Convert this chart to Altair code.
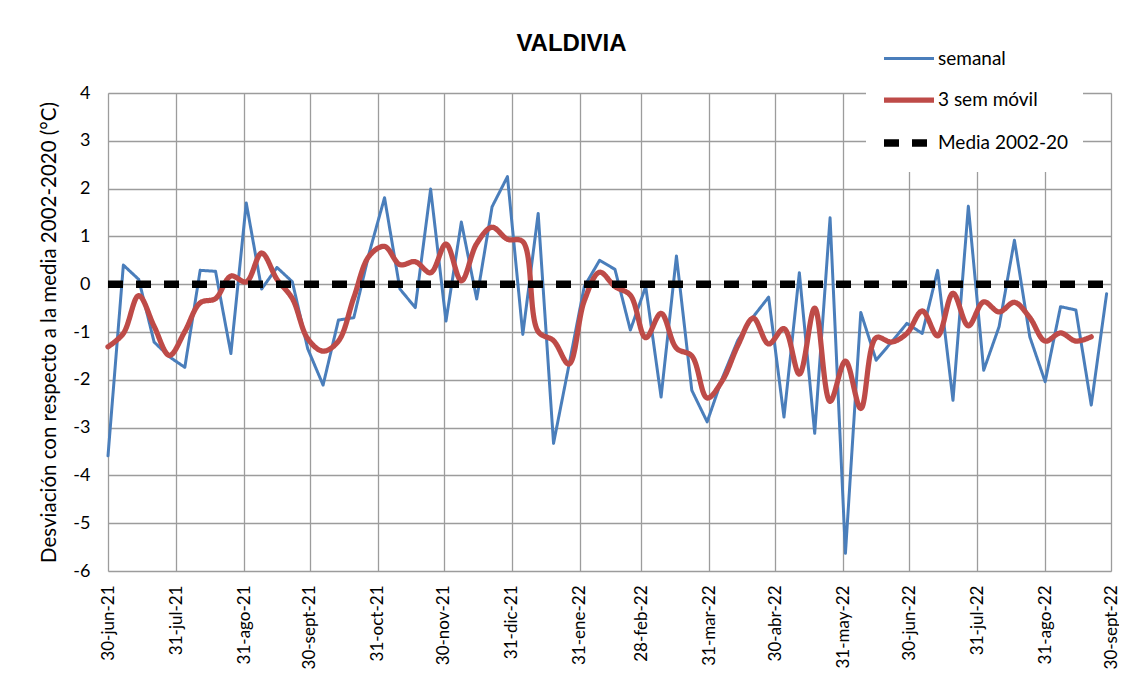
import altair as alt
import pandas as pd

# ---- data ----
fechas_semanal = pd.date_range("2021-06-30", periods=66, freq="7D")
semanal = [-3.59, 0.40, 0.10, -1.21, -1.52, -1.74, 0.29, 0.27, -1.45, 1.70,
           -0.10, 0.35, 0.05, -1.35, -2.11, -0.75, -0.70, 0.65, 1.81, -0.10,
           -0.49, 1.99, -0.77, 1.30, -0.31, 1.62, 2.25, -1.05, 1.48, -3.33,
           -1.70, -0.05, 0.50, 0.31, -0.96, -0.05, -2.36, 0.59, -2.22, -2.88,
           -1.95, -1.17, -0.68, -0.27, -2.78, 0.24, -3.12, 1.39, -5.63, -0.59,
           -1.59, -1.21, -0.82, -1.03, 0.29, -2.43, 1.63, -1.80, -0.89, 0.92,
           -1.10, -2.04, -0.47, -0.54, -2.53, -0.20]
fechas_movil = fechas_semanal[:65]
movil = [-1.31, -1.03, -0.24, -0.88, -1.49, -0.99, -0.39, -0.30, 0.17, 0.05,
         0.65, 0.10, -0.30, -1.14, -1.40, -1.19, -0.28, 0.59, 0.79, 0.41,
         0.47, 0.24, 0.84, 0.07, 0.85, 1.19, 0.94, 0.89, -0.99, -1.18,
         -1.67, -0.35, 0.25, -0.05, -0.23, -1.12, -0.61, -1.34, -1.50, -2.38,
         -2.01, -1.28, -0.71, -1.25, -0.93, -1.88, -0.50, -2.45, -1.61, -2.60,
         -1.12, -1.21, -1.03, -0.56, -1.08, -0.19, -0.87, -0.37, -0.58, -0.38,
         -0.70, -1.19, -1.02, -1.19, -1.10]
media_fechas = ["2021-06-30", "2022-09-30"]
media = [0, 0]

tick_fechas = ["2021-06-30", "2021-07-31", "2021-08-31", "2021-09-30", "2021-10-31",
               "2021-11-30", "2021-12-31", "2022-01-31", "2022-02-28", "2022-03-31",
               "2022-04-30", "2022-05-31", "2022-06-30", "2022-07-31", "2022-08-31",
               "2022-09-30"]
tick_etiquetas = ["30-jun-21", "31-jul-21", "31-ago-21", "30-sept-21", "31-oct-21",
                  "30-nov-21", "31-dic-21", "31-ene-22", "28-feb-22", "31-mar-22",
                  "30-abr-22", "31-may-22", "30-jun-22", "31-jul-22", "31-ago-22",
                  "30-sept-22"]
y_ticks = [-6, -5, -4, -3, -2, -1, 0, 1, 2, 3, 4]
series = ["semanal", "3 sem móvil", "Media 2002-20"]
colores = ["#4A7EBB", "#BE4B48", "#000000"]
anchos = [3, 7.5, 3.5]
trazos = [[1, 0], [1, 0], [15, 13]]

def iso(d):
    return pd.Timestamp(d).strftime("%Y-%m-%dT00:00:00")

df_sem = pd.DataFrame({"fecha": [iso(d) for d in fechas_semanal], "valor": semanal, "serie": series[0]})
df_mov = pd.DataFrame({"fecha": [iso(d) for d in fechas_movil], "valor": movil, "serie": series[1]})
df_med = pd.DataFrame({"fecha": [iso(d) for d in media_fechas], "valor": media, "serie": series[2]})

def dt(s):
    t = pd.Timestamp(s)
    return alt.DateTime(year=t.year, month=t.month, date=t.day)

keys = "[" + ",".join(f"'{d}'" for d in tick_fechas) + "]"
labs = "[" + ",".join(f"'{l}'" for l in tick_etiquetas) + "]"
label_expr = f"{labs}[indexof({keys}, timeFormat(datum.value, '%Y-%m-%d'))]"

GRID = "#9c9c9c"

x_enc = alt.X("fecha:T",
              scale=alt.Scale(domain=[dt(tick_fechas[0]), dt(tick_fechas[-1])]),
              axis=alt.Axis(values=[dt(d) for d in tick_fechas], labelExpr=label_expr,
                            labelAngle=-90, labelFont="Lato", labelFontSize=17,
                            labelColor="black", labelPadding=14, labelFlush=False,
                            labelOverlap=False, grid=True, gridColor=GRID, gridWidth=1.3,
                            domain=False, ticks=False),
              title=None)
y_enc = alt.Y("valor:Q",
              scale=alt.Scale(domain=[-6, 4], nice=False, zero=False),
              axis=alt.Axis(values=y_ticks, labelExpr="toString(datum.value)",
                            labelFont="Lato", labelFontSize=18,
                            labelColor="black", labelPadding=18, grid=True,
                            gridColor=GRID, gridWidth=1.3, domain=False, ticks=False,
                            titleFont="Lato", titleFontSize=20.5, titleFontWeight="normal",
                            titleColor="black", titlePadding=13),
              title="Desviación con respecto a la media 2002-2020 (°C)")

leg = alt.Legend(orient="none", legendX=758, legendY=-75, fillColor="white",
                 padding=14, symbolType="stroke", symbolSize=2500,
                 labelFont="Lato", labelFontSize=19, labelColor="black",
                 labelOffset=0, rowPadding=3)

color_enc = alt.Color("serie:N", scale=alt.Scale(domain=series, range=colores), legend=leg, title=None)
width_enc = alt.StrokeWidth("serie:N", scale=alt.Scale(domain=series, range=anchos), legend=leg, title=None)
dash_enc = alt.StrokeDash("serie:N", scale=alt.Scale(domain=series, range=trazos), legend=leg, title=None)

base_enc = dict(x=x_enc, y=y_enc, color=color_enc, strokeWidth=width_enc, strokeDash=dash_enc)

l_sem = alt.Chart(df_sem).mark_line(strokeCap="round", strokeJoin="round").encode(**base_enc)
l_mov = alt.Chart(df_mov).mark_line(interpolate="catmull-rom", strokeCap="round", strokeJoin="round").encode(**base_enc)
l_med = alt.Chart(df_med).mark_line().encode(**base_enc)

chart = alt.layer(l_sem, l_mov, l_med).properties(
    width=1003, height=478,
    title=alt.TitleParams("VALDIVIA", font="Liberation Sans", fontSize=24,
                          fontWeight="bold", color="black", anchor="middle",
                          baseline="alphabetic", frame="group", offset=-57, dx=-38),
    autosize=alt.AutoSizeParams(type="none"),
    padding={"left": 100, "top": 85, "right": 8, "bottom": 100},
).configure_view(stroke=None).configure(background="white")

chart.save("out.html", embed_options={"renderer": "svg", "actions": False})
